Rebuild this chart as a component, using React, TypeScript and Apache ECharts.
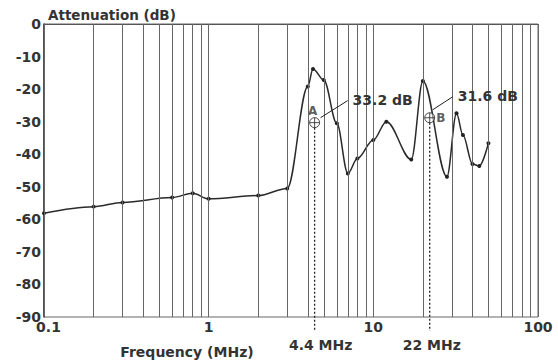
import React, { useEffect, useRef } from "react";
import * as echarts from "echarts";

const freqMHz = [0.1, 0.2, 0.3, 0.6, 0.8, 1, 2, 3, 4, 4.3, 5, 6, 7, 8, 10, 12, 17, 20, 28, 32, 35, 40, 44, 50];
const attenuationDb = [-58.1, -56.1, -54.8, -53.3, -52.0, -53.7, -52.7, -50.5, -19.2, -13.8, -17.2, -30.5, -45.9, -41.3, -35.6, -30.0, -41.6, -17.5, -46.9, -27.4, -34.1, -43.0, -43.6, -36.6];

const gridFreqs = [
  0.1, 0.2, 0.3, 0.4, 0.5, 0.6, 0.7, 0.8, 0.9,
  1, 2, 3, 4, 5, 6, 7, 8, 9,
  10, 20, 30, 40, 50, 60, 70, 80, 90, 100,
];
const xTickLabels = [0.1, 1, 10, 100];

const markerFreq = [4.4, 22];
const markerDb = [-30.3, -28.8];
const markerNames = ["A", "B"];
const markerValueLabels = ["33.2 dB", "31.6 dB"];
const markerFreqLabels = ["4.4 MHz", "22 MHz"];

const yTitle = "Attenuation (dB)";
const xTitle = "Frequency (MHz)";

const FONT = "DejaVu Sans";
const TXT = "#333";

export default function App() {
  const ref = useRef<HTMLDivElement>(null);
  useEffect(() => {
    if (!ref.current) return;
    const chart = echarts.init(ref.current, undefined, { renderer: "svg" });
    const crossPath =
      "path://M0,10 A10,10 0 1,0 20,10 A10,10 0 1,0 0,10 Z M0,10 L20,10 M10,0 L10,20";
    chart.setOption({
      animation: false,
      backgroundColor: "#fff",
      grid: {
        left: 44,
        right: 20,
        top: 24,
        bottom: 47,
        show: true,
        borderColor: "#666",
        borderWidth: 1,
      },
      xAxis: {
        type: "log",
        logBase: 10,
        min: 0.1,
        max: 100,
        axisLine: { show: true, lineStyle: { color: "#555", width: 1 } },
        axisTick: { show: false },
        splitLine: { show: false },
        axisLabel: {
          color: TXT,
          fontFamily: FONT,
          fontSize: 14,
          fontWeight: "bold",
          margin: 3,
          formatter: (v: number) => {
            if (Math.abs(v - xTickLabels[0]) < 1e-9) return "{first|" + v + "}";
            return xTickLabels.some((t) => Math.abs(t - v) < 1e-9) ? String(v) : "";
          },
          rich: {
            first: {
              color: TXT,
              fontFamily: FONT,
              fontSize: 14,
              fontWeight: "bold",
              padding: [0, 0, 0, 9],
            },
          },
        },
      },
      yAxis: {
        type: "value",
        min: -90,
        max: 0,
        interval: 10,
        axisLine: { show: true, lineStyle: { color: "#333", width: 1.5 } },
        axisTick: { show: false },
        splitLine: { show: false },
        axisLabel: { color: TXT, fontFamily: FONT, fontSize: 14, fontWeight: "bold", margin: 3 },
      },
      series: [
        {
          type: "line",
          data: [],
          z: 1,
          markLine: {
            silent: true,
            symbol: "none",
            label: { show: false },
            lineStyle: { color: "#666", width: 1, type: "solid" },
            data: gridFreqs.map((f) => ({ xAxis: f })),
          },
        },
        {
          type: "line",
          z: 3,
          data: freqMHz.map((f, i) => [f, attenuationDb[i]]),
          smooth: 0.35,
          smoothMonotone: "x",
          symbol: "circle",
          symbolSize: 4,
          itemStyle: { color: "#222" },
          lineStyle: { color: "#2a2a2a", width: 1.5 },
        },
        {
          type: "scatter",
          z: 4,
          data: markerFreq.map((f, i) => ({ value: [f, markerDb[i]], name: markerNames[i] })),
          symbol: crossPath,
          symbolSize: 10,
          itemStyle: { color: "rgba(255,255,255,0.6)", borderColor: "#222", borderWidth: 1 },
          label: {
            show: true,
            formatter: (p: any) => p.name,
            color: TXT,
            fontFamily: FONT,
            fontSize: 12,
            fontWeight: "bold",
            position: "right",
            distance: 1,
          },
          labelLayout: (p: any) =>
            p.dataIndex === 0 ? { dx: -13, dy: -12 } : { dx: 0, dy: 0 },
        },
      ],
    });

    const conv = (f: number, v: number) =>
      chart.convertToPixel({ xAxisIndex: 0, yAxisIndex: 0 }, [f, v]) as number[];
    const bottomY = conv(1, -90)[1];
    const topLeft = conv(0.1, 0);
    const graphics: any[] = [];
    graphics.push({
      type: "text",
      x: topLeft[0] + 4,
      y: topLeft[1] - 9,
      style: {
        text: yTitle,
        fill: TXT,
        font: `bold 13.5px "${FONT}"`,
        textAlign: "left",
        textVerticalAlign: "middle",
      },
    });
    graphics.push({
      type: "text",
      x: 187,
      y: bottomY + 35,
      style: {
        text: xTitle,
        fill: TXT,
        font: `bold 14px "${FONT}"`,
        textAlign: "center",
        textVerticalAlign: "middle",
      },
    });
    markerFreq.forEach((f, i) => {
      const p = conv(f, markerDb[i]);
      graphics.push({
        type: "line",
        z: 2,
        shape: { x1: p[0], y1: p[1] + 5, x2: p[0], y2: bottomY + 14 },
        style: { stroke: "#222", lineWidth: 1.3, lineDash: [2, 2] },
      });
      const lead = i === 0 ? [6, -5, 33, -22] : [3, -8, 23, -21];
      graphics.push({
        type: "line",
        z: 5,
        shape: { x1: p[0] + lead[0], y1: p[1] + lead[1], x2: p[0] + lead[2], y2: p[1] + lead[3] },
        style: { stroke: "#222", lineWidth: 1 },
      });
      graphics.push({
        type: "text",
        z: 5,
        x: p[0] + lead[2] + 5,
        y: p[1] + lead[3] - 1,
        style: {
          text: markerValueLabels[i],
          fill: TXT,
          font: `bold 14px "${FONT}"`,
          textAlign: "left",
          textVerticalAlign: "middle",
        },
      });
      graphics.push({
        type: "text",
        z: 5,
        x: p[0] + (i === 0 ? 6 : 2),
        y: bottomY + 28,
        style: {
          text: markerFreqLabels[i],
          fill: TXT,
          font: `bold 14px "${FONT}"`,
          textAlign: "center",
          textVerticalAlign: "middle",
        },
      });
    });
    chart.setOption({ graphic: graphics });

    return () => chart.dispose();
  }, []);
  return (
    <div
      ref={ref}
      style={{ position: "fixed", left: 0, top: 0, width: 558, height: 364 }}
    />
  );
}
